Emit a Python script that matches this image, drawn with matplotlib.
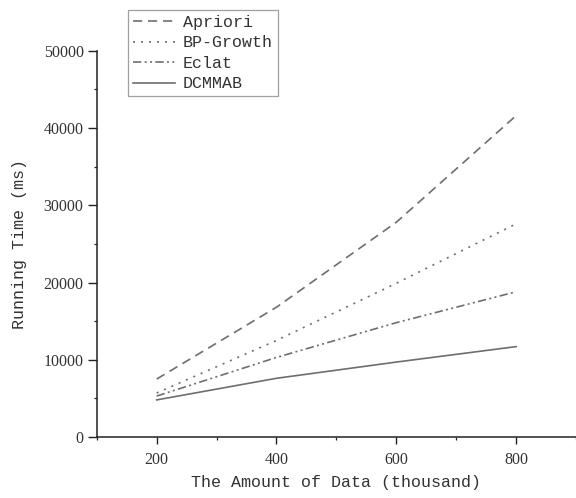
import matplotlib
matplotlib.use("Agg")
import matplotlib.pyplot as plt
from matplotlib.ticker import MultipleLocator

# data
data_amount = [200, 400, 600, 800]
apriori = [7500, 16800, 27800, 41600]
bp_growth = [5700, 12500, 19900, 27600]
eclat = [5300, 10300, 14800, 18800]
dcmmab = [4800, 7600, 9700, 11700]

series_names = ["Apriori", "BP-Growth", "Eclat", "DCMMAB"]

line_color = "#6e6e6e"
axis_color = "#222222"
mono = "Liberation Mono"
serif = "Liberation Serif"

fig = plt.figure(figsize=(5.76, 4.98), dpi=100)
ax = fig.add_axes([0.168, 0.1225, 0.832, 0.7755])

styles = [
    (0, (5.5, 3.5)),
    (0, (1.2, 3.6)),
    (0, (5, 2, 1.2, 2, 1.2, 2)),
    "-",
]
for vals, name, ls in zip([apriori, bp_growth, eclat, dcmmab], series_names, styles):
    ax.plot(data_amount, vals, color=line_color, linestyle=ls, linewidth=1.2, label=name)

ax.set_xlim(100, 900)
ax.set_ylim(0, 50000)
ax.xaxis.set_major_locator(MultipleLocator(200))
ax.xaxis.set_minor_locator(MultipleLocator(100))
ax.yaxis.set_major_locator(MultipleLocator(10000))
ax.yaxis.set_minor_locator(MultipleLocator(5000))

ax.spines["top"].set_visible(False)
ax.spines["right"].set_visible(False)
for side in ["left", "bottom"]:
    ax.spines[side].set_color(axis_color)
    ax.spines[side].set_linewidth(1.1)

ax.tick_params(axis="x", which="major", direction="out", length=5, width=1.0, color=axis_color, pad=6)
ax.tick_params(axis="y", which="major", direction="out", length=6.5, width=1.0, color=axis_color, pad=3)
ax.tick_params(which="minor", direction="out", length=2.5, width=0.9, color=axis_color)
for lab in ax.get_xticklabels() + ax.get_yticklabels():
    lab.set_fontfamily(serif)
    lab.set_fontsize(11.5)
    lab.set_color("#333333")

ax.set_xlabel("The Amount of Data (thousand)", fontfamily=mono, fontsize=12, color="#333333", labelpad=5)
ax.set_ylabel("Running Time (ms)", fontfamily=mono, fontsize=12, color="#333333", labelpad=12)

leg = ax.legend(
    loc="upper left",
    bbox_to_anchor=(0.222, 0.98),
    bbox_transform=fig.transFigure,
    prop={"family": mono, "size": 12},
    frameon=True,
    fancybox=False,
    handlelength=2.5,
    handletextpad=0.5,
    labelspacing=0.33,
    borderpad=0.3,
    borderaxespad=0,
)
leg.get_frame().set_edgecolor("#888888")
leg.get_frame().set_linewidth(0.9)
for t in leg.get_texts():
    t.set_color("#333333")

fig.savefig("out.png", dpi=100)
